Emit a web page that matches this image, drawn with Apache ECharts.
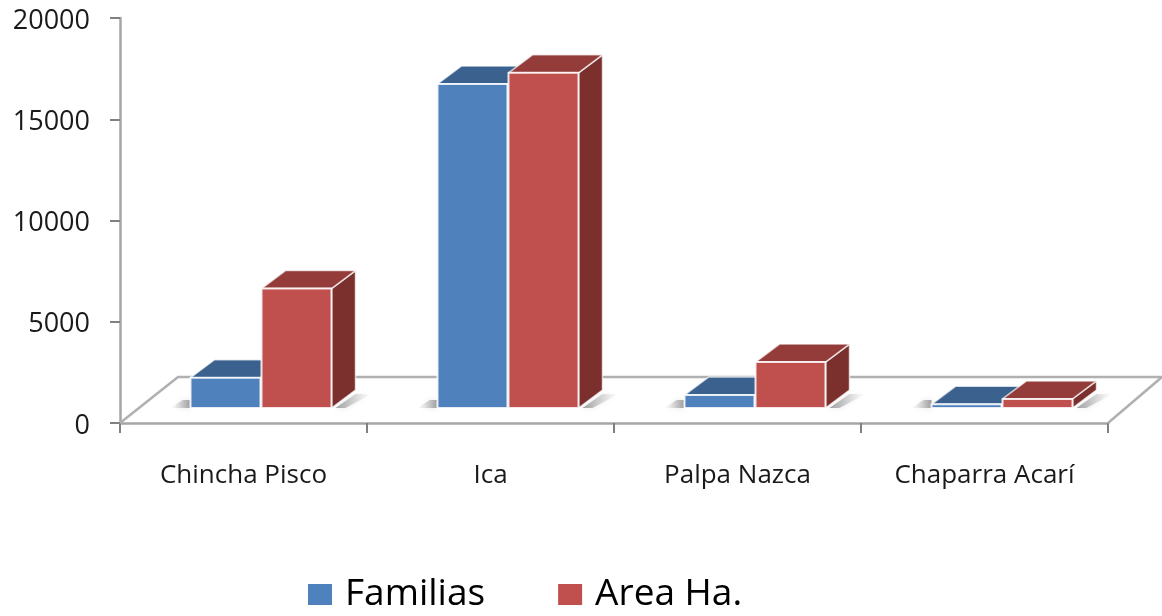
<!DOCTYPE html>
<html>
<head>
<meta charset="utf-8">
<style>html,body{margin:0;padding:0;background:#fff}#c{width:1162px;height:616px}</style>
<script src="https://cdn.jsdelivr.net/npm/echarts@6/dist/echarts.min.js"></script>
</head>
<body>
<div id="c"></div>
<script>
const categories = ['Chincha Pisco', 'Ica', 'Palpa Nazca', 'Chaparra Acarí'];
const familias = [1500, 16000, 640, 180];
const areaHa = [5900, 16550, 2270, 450];
const yTicks = [0, 5000, 10000, 15000, 20000];

const BAR_W = 70, DX = 24, DY = 18, BASE = 15;
const FONT = '"Open Sans", sans-serif';
const chart = echarts.init(document.getElementById('c'));

function shadow(points, reverse) {
  const dark = 'rgba(120,120,120,0.7)', clear = 'rgba(170,170,170,0)';
  return {
    type: 'polygon', silent: true,
    shape: { points },
    style: {
      fill: new echarts.graphic.LinearGradient(0, 0, 1, 0, reverse
        ? [{ offset: 0, color: clear }, { offset: 1, color: dark }]
        : [{ offset: 0, color: dark }, { offset: 1, color: clear }]),
      shadowBlur: 6, shadowColor: 'rgba(170,170,170,0.5)'
    }
  };
}

function barRenderer(offset, front, top, side, isLast) {
  return function (params, api) {
    const c = api.coord([api.value(0), api.value(1)]);
    const b = api.coord([api.value(0), 0]);
    const x0 = c[0] + offset, x1 = x0 + BAR_W;
    const yt = c[1] - BASE, yb = b[1] - BASE;
    const children = [];
    if (isLast) {
      children.push(shadow([[x1 + 4, yb], [x1 + DX, yb - 14], [x1 + DX + 16, yb - 14], [x1 + 14, yb]], false));
    } else {
      children.push(shadow([[x0 - 20, yb], [x0 - 8, yb - 8], [x0, yb - 8], [x0, yb]], true));
    }
    const edge = { stroke: 'rgba(255,255,255,0.7)', lineWidth: 1.5, lineJoin: 'round' };
    children.push({ type: 'polygon', shape: { points: [[x1, yt], [x1 + DX, yt - DY], [x1 + DX, yb - DY], [x1, yb]] }, style: Object.assign({ fill: side }, edge) });
    children.push({ type: 'polygon', shape: { points: [[x0, yt], [x0 + DX, yt - DY], [x1 + DX, yt - DY], [x1, yt]] }, style: Object.assign({ fill: top }, edge) });
    children.push({ type: 'rect', shape: { x: x0, y: yt, width: BAR_W, height: yb - yt }, style: Object.assign({ fill: front }, edge, { stroke: 'rgba(255,255,255,0.85)', lineWidth: 2 }) });
    return { type: 'group', children };
  };
}

function floorRenderer(params, api) {
  const cs = params.coordSys;
  const l = cs.x, r = cs.x + cs.width, y = cs.y + cs.height;
  const lineStyle = { stroke: '#b0b0b0', lineWidth: 2.5, fill: 'none' };
  return {
    type: 'group', silent: true,
    children: [
      { type: 'polyline', shape: { points: [[l, y], [l + 58, y - 46], [r + 54, y - 46]] }, style: lineStyle },
      { type: 'line', shape: { x1: r, y1: y, x2: r + 54, y2: y - 46 }, style: lineStyle }
    ]
  };
}

chart.setOption({
  animation: false,
  backgroundColor: '#ffffff',
  grid: { left: 120, right: 54, top: 18, bottom: 193, containLabel: false },
  legend: {
    data: ['Familias', 'Area Ha.'],
    left: 308, top: 576, icon: 'rect', padding: 0,
    itemWidth: 24, itemHeight: 21, itemGap: 73,
    textStyle: { fontFamily: FONT, fontSize: 37, color: '#000', padding: [0, 0, 0, 8] }
  },
  xAxis: {
    type: 'category', data: categories,
    axisLine: { lineStyle: { color: '#a6a6a6', width: 2.5 } },
    axisTick: { show: true, length: 10, lineStyle: { color: '#808080', width: 2 } },
    axisLabel: { margin: 40, fontFamily: FONT, fontSize: 26, color: '#1a1a1a' },
    splitLine: { show: false }
  },
  yAxis: {
    type: 'value', min: yTicks[0], max: yTicks[yTicks.length - 1], interval: yTicks[1] - yTicks[0],
    axisLine: { show: true, lineStyle: { color: '#a6a6a6', width: 2.5 } },
    axisTick: { show: true, length: 10, lineStyle: { color: '#808080', width: 2 } },
    axisLabel: { margin: 30, fontFamily: FONT, fontSize: 27, color: '#1a1a1a', verticalAlign: 'top', lineHeight: 6, formatter: v => String(v) },
    splitLine: { show: false }
  },
  series: [
    { type: 'custom', name: 'floor', clip: false, silent: true, z: 1, renderItem: floorRenderer, data: [[0, 0]], encode: { x: 0, y: 1 } },
    { type: 'custom', name: 'Familias', clip: false, z: 2, itemStyle: { color: '#4f81bd' },
      renderItem: barRenderer(-53, '#4f81bd', '#3b618e', '#34567e', false),
      data: familias.map((v, i) => [i, v]), encode: { x: 0, y: 1 } },
    { type: 'custom', name: 'Area Ha.', clip: false, z: 3, itemStyle: { color: '#c0504d' },
      renderItem: barRenderer(18, '#c0504d', '#933c3a', '#7b302e', true),
      data: areaHa.map((v, i) => [i, v]), encode: { x: 0, y: 1 } }
  ]
});
</script>
</body>
</html>
